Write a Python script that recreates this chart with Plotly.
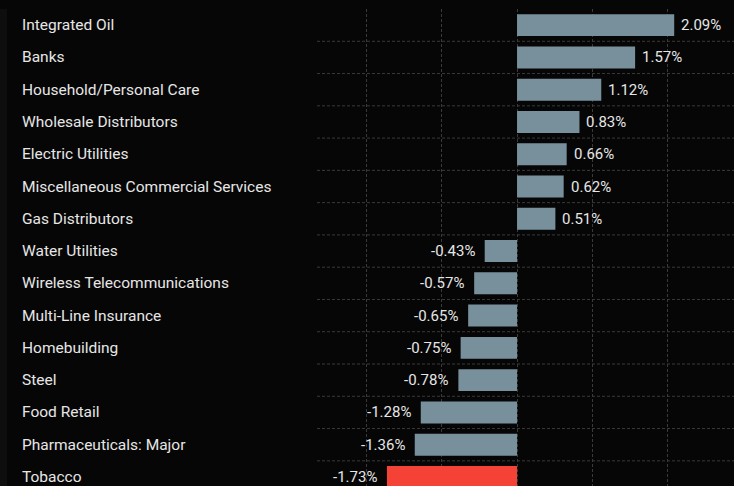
import plotly.graph_objects as go

categories = ["Integrated Oil", "Banks", "Household/Personal Care", "Wholesale Distributors",
              "Electric Utilities", "Miscellaneous Commercial Services", "Gas Distributors",
              "Water Utilities", "Wireless Telecommunications", "Multi-Line Insurance",
              "Homebuilding", "Steel", "Food Retail", "Pharmaceuticals: Major", "Tobacco"]
values = [2.09, 1.57, 1.12, 0.83, 0.66, 0.62, 0.51, -0.43, -0.57, -0.65, -0.75, -0.78,
          -1.28, -1.36, -1.73]
highlight = "Tobacco"

BG = "#060606"
GRID = "#3a3a3a"
TEXT = "#e6e6e6"
FONT = "Roboto"

colors = ["#f44336" if c == highlight else "#78909c" for c in categories]

fig = go.Figure(go.Bar(
    x=values, y=categories, orientation="h",
    marker=dict(color=colors, line=dict(width=0)),
    width=0.68,
    cliponaxis=False,
))

shapes = [dict(type="rect", xref="paper", yref="paper", x0=-0.7602, x1=-0.7434, y0=0, y1=1,
               fillcolor="#0e0e0e", line=dict(width=0), layer="below")]
for i in range(len(categories) - 1):
    shapes.append(dict(type="line", xref="paper", yref="y", x0=0, x1=1, y0=i + 0.5, y1=i + 0.5,
                       line=dict(color=GRID, width=1, dash="3px,2px"), layer="below"))

annotations = [dict(text=c, xref="paper", yref="y", x=-0.7122, y=c, xanchor="left",
                    yanchor="middle", showarrow=False,
                    font=dict(color=TEXT, size=15.5, family=FONT)) for c in categories]
for c, v in zip(categories, values):
    annotations.append(dict(text=f"{v:.2f}%", xref="x", yref="y", x=v, y=c,
                            xanchor="left" if v >= 0 else "right", yanchor="middle",
                            xshift=5 if v >= 0 else -8, showarrow=False,
                            font=dict(color=TEXT, size=15, family=FONT)))

fig.update_layout(
    width=734, height=486,
    margin=dict(l=317, r=0, t=9, b=0),
    paper_bgcolor=BG, plot_bgcolor=BG,
    showlegend=False,
    shapes=shapes, annotations=annotations,
    xaxis=dict(range=[-2.66, 2.885], showgrid=True, gridcolor=GRID, griddash="3px,2px",
               gridwidth=1, tickvals=[-2, -1, 0, 1, 2], showticklabels=False,
               zeroline=False, showline=False, fixedrange=True),
    yaxis=dict(categoryorder="array", categoryarray=categories, range=[14.28, -0.5],
               showgrid=False, showticklabels=False, zeroline=False, showline=False,
               fixedrange=True),
    font=dict(family=FONT, color=TEXT),
)

fig.write_html("out.html", config={"displayModeBar": False},
               post_script="document.body.style.margin='0';document.body.style.background='#060606';document.body.style.overflow='hidden';")
